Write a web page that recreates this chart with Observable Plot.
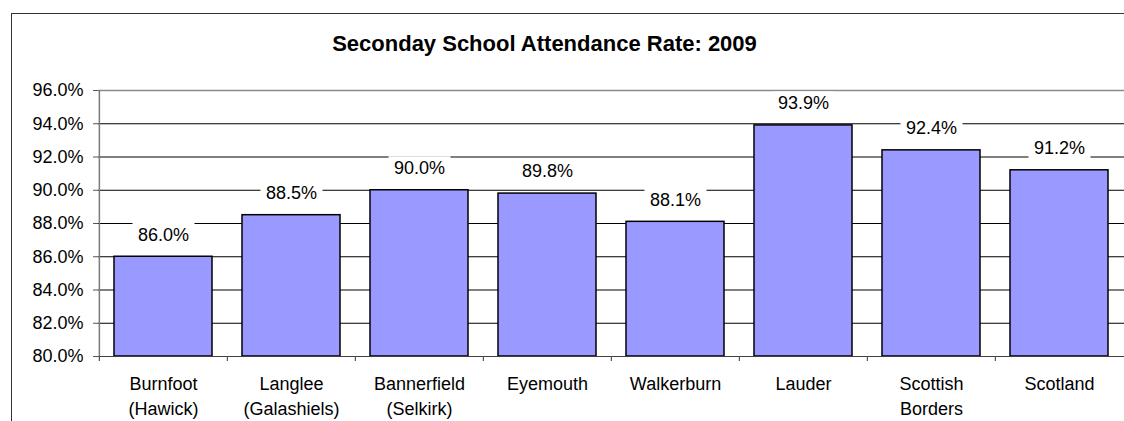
<!DOCTYPE html>
<html>
<head>
<meta charset="utf-8">
<script src="https://cdn.jsdelivr.net/npm/d3@7"></script>
<script src="https://cdn.jsdelivr.net/npm/@observablehq/plot@0.6"></script>
<style>
  html, body { margin: 0; padding: 0; background: #fff; }
  #wrap { position: relative; width: 1124px; height: 421px; overflow: hidden; }
  #border { position: absolute; left: 11px; top: 13px; width: 1200px; height: 500px;
            border-left: 1.5px solid #333; border-top: 1.5px solid #333; box-sizing: border-box; }
  #chart { position: absolute; left: 0; top: 0; }
</style>
</head>
<body>
<div id="wrap"><div id="border"></div><div id="chart"></div></div>
<script>
const title = "Seconday School Attendance Rate: 2009";
const categories = [
  "Burnfoot\n(Hawick)",
  "Langlee\n(Galashiels)",
  "Bannerfield\n(Selkirk)",
  "Eyemouth",
  "Walkerburn",
  "Lauder",
  "Scottish\nBorders",
  "Scotland"
];
const values = [86.0, 88.5, 90.0, 89.8, 88.1, 93.9, 92.4, 91.2];
const yTicks = [80, 82, 84, 86, 88, 90, 92, 94, 96];

const data = categories.map((c, i) => ({category: c, value: values[i]}));

const W = 1124, H = 421;
const mL = 98, mR = 0, mT = 90, mB = 65;
const padIn = 0.236, padOut = 0.118;
const step = (W - mL - mR) / (categories.length - padIn + 2 * padOut);
const font = "'Liberation Sans', Arial, sans-serif";

// white label background box as a custom symbol
const labelBox = {draw(ctx) { ctx.rect(-31, -12, 62, 24); }};

const chart = Plot.plot({
  width: W,
  height: H,
  marginLeft: mL,
  marginRight: mR,
  marginTop: mT,
  marginBottom: mB,
  style: {fontFamily: font, fontSize: "18px", color: "#000", background: "transparent"},
  x: {domain: categories, paddingInner: padIn, paddingOuter: padOut, label: null},
  y: {domain: [80, 96], label: null},
  marks: [
    Plot.ruleY(yTicks.filter(t => t > 80 && t < 96), {y: d => d, stroke: "#000", strokeWidth: 1}),
    Plot.ruleY([96], {y: d => d, stroke: "#8a8a8a", strokeWidth: 1.5}),
    Plot.barY(data, {x: "category", y1: 80, y2: "value", fill: "#9999FF", stroke: "#000", strokeWidth: 1.5}),
    Plot.ruleY([80], {y: d => d, stroke: "#404040", strokeWidth: 1.2}),
    Plot.ruleX([categories[0]], {x: d => d, dx: -step / 2, y1: 80, y2: 96, stroke: "#7a7a7a", strokeWidth: 1.5}),
    Plot.axisX({tickSize: 5, tickFormat: () => "", dx: -step / 2, stroke: "#555", strokeWidth: 1.2}),
    Plot.axisX({tickSize: 0, tickPadding: 15, lineHeight: 1.42, fontSize: 18, fill: "#000"}),
    Plot.axisY({ticks: yTicks, tickSize: 5, tickPadding: 10, stroke: "#555", tickFormat: d => d.toFixed(1) + "%", fontSize: 18, fill: "#000"}),
    Plot.dot(data, {x: "category", y: "value", dy: -22, symbol: labelBox, fill: "#fff", stroke: "none", r: 10}),
    Plot.text(data, {
      x: "category", y: "value", dy: -22,
      text: d => d.value.toFixed(1) + "%",
      fontSize: 18, fill: "#000"
    }),
    Plot.text([title], {
      frameAnchor: "top", dy: -47, dx: -67, lineAnchor: "middle",
      text: d => d, fontSize: 22, fontWeight: "bold", fill: "#000",
      letterSpacing: "0.2px"
    })
  ]
});
document.getElementById("chart").appendChild(chart);
</script>
</body>
</html>
